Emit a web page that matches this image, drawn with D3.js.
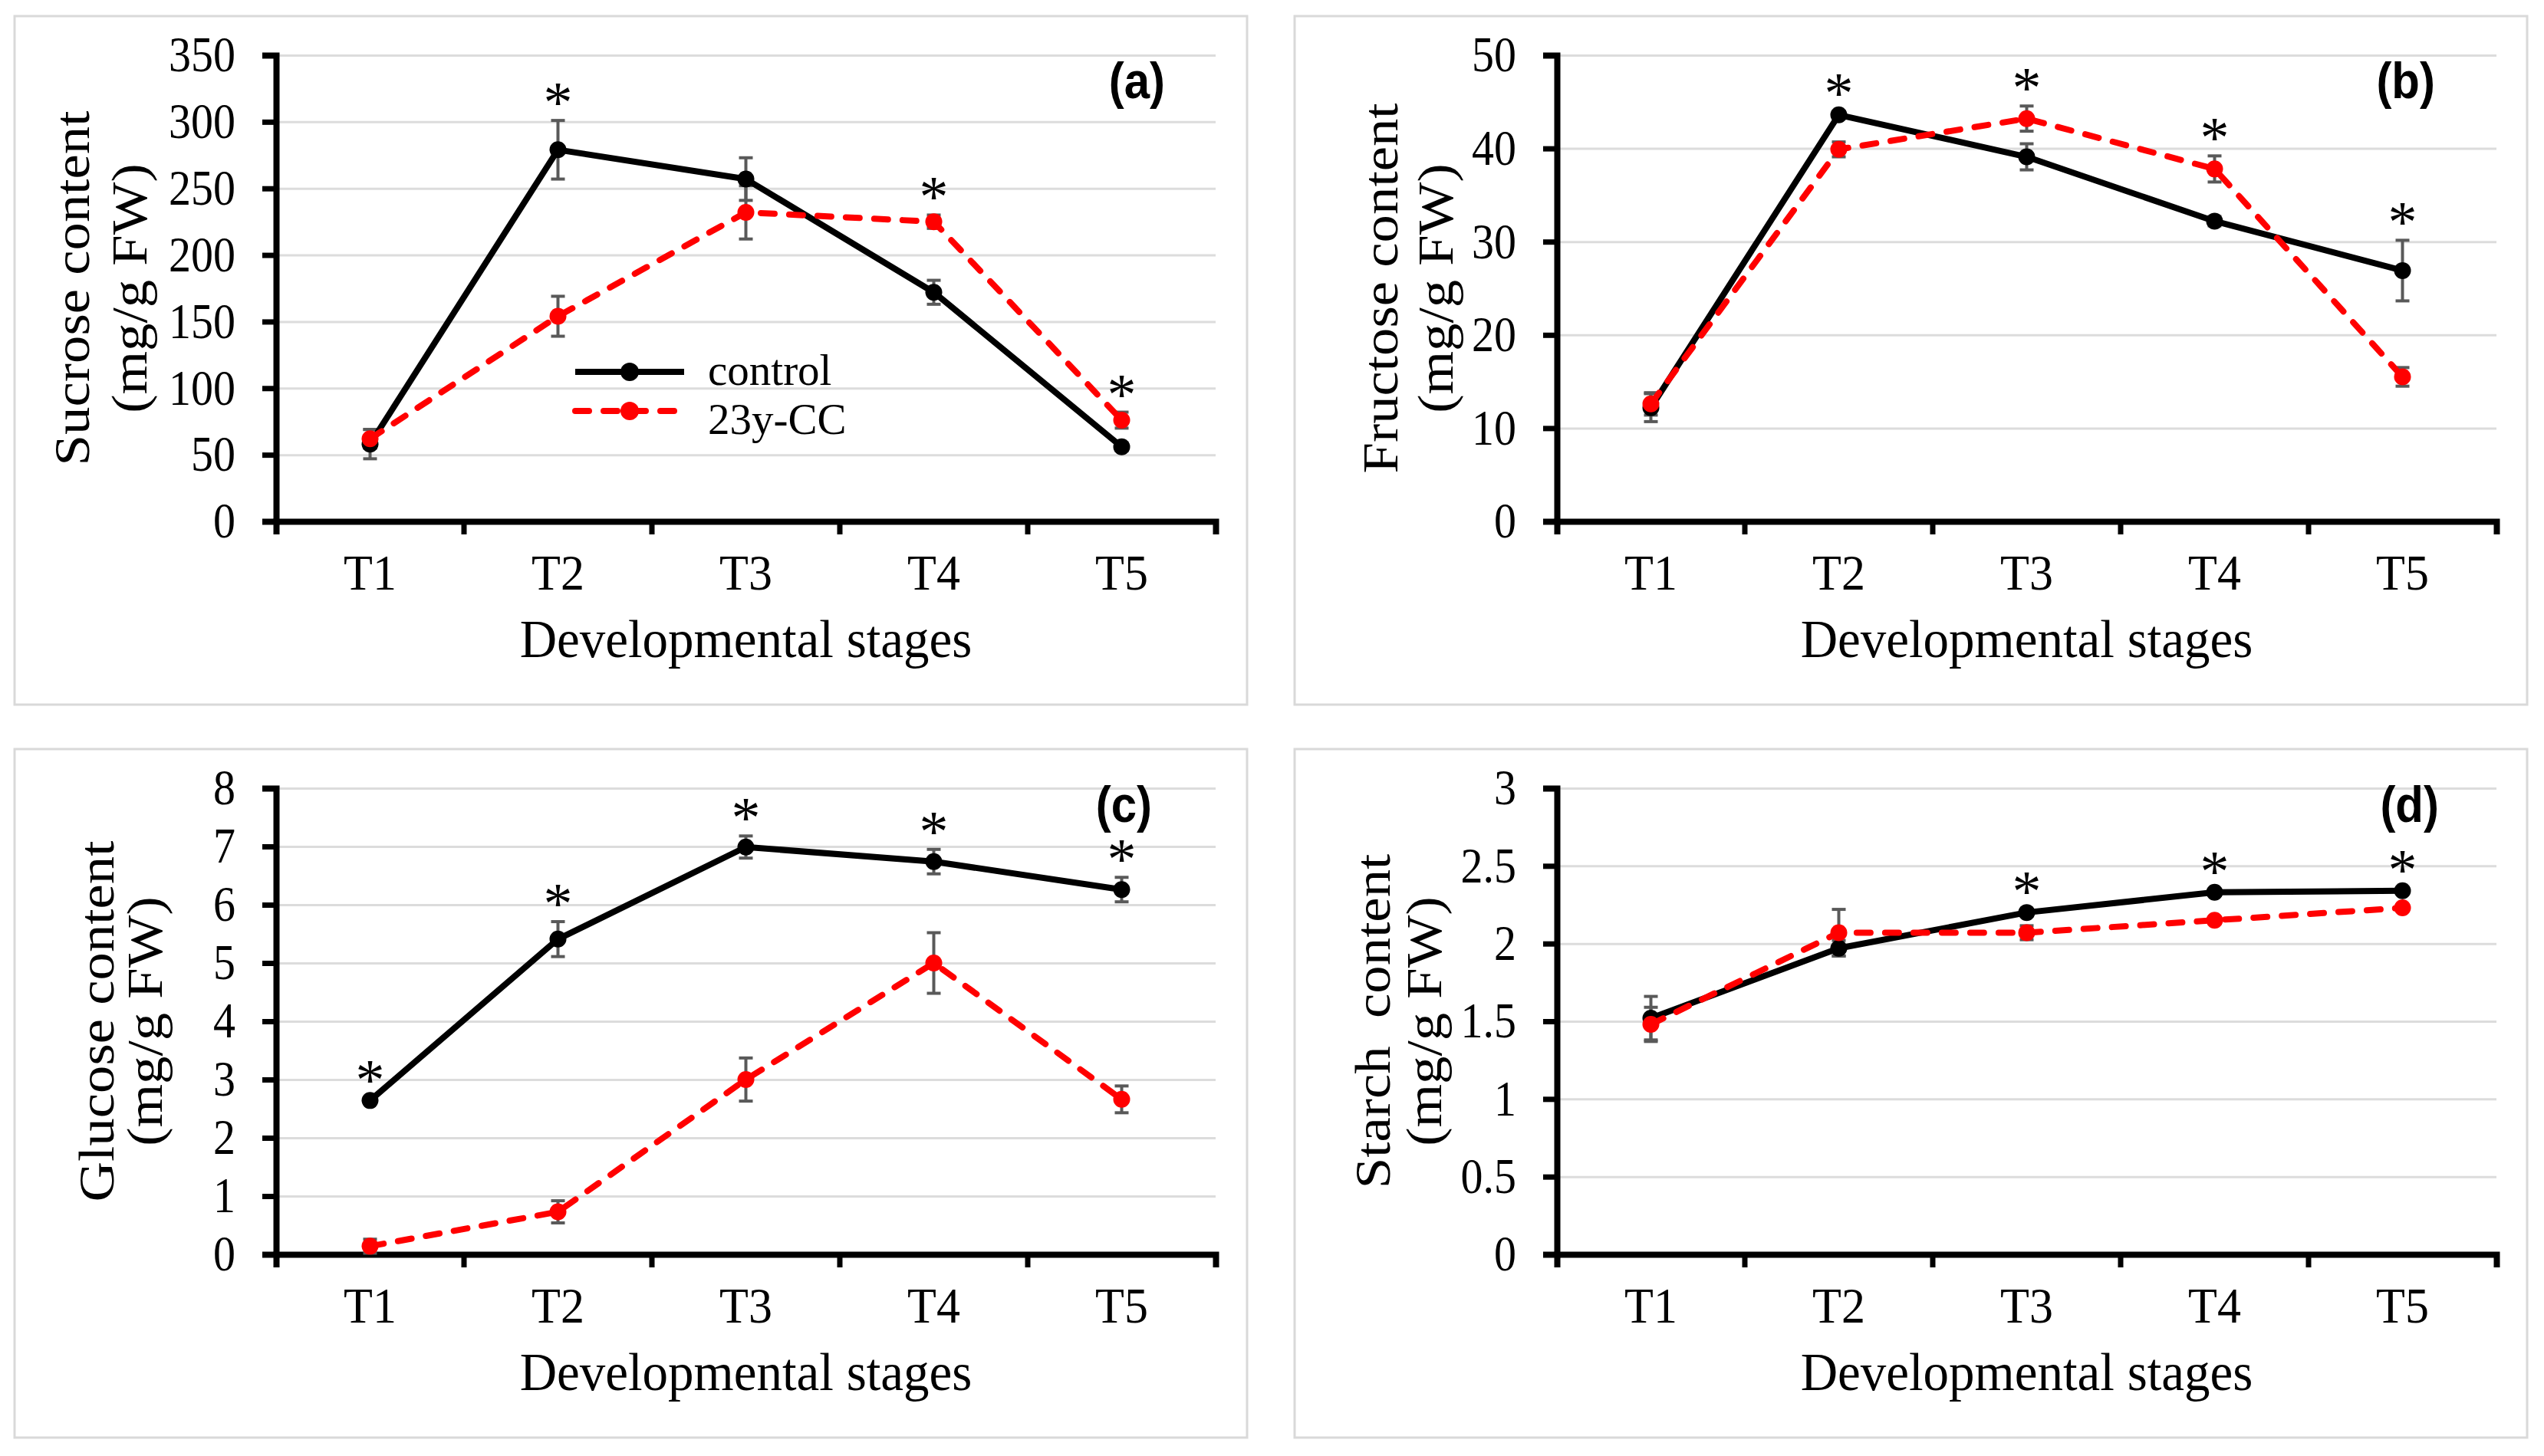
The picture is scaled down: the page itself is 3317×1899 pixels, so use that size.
<!DOCTYPE html>
<html>
<head>
<meta charset="utf-8">
<script src="https://cdn.jsdelivr.net/npm/d3@7"></script>
<style>
	body { margin: 0; background: #fff; }
	svg text { font-family: "Liberation Serif", "Times New Roman", serif; fill: #000; }
</style>
</head>
<body>
<svg id="chart"></svg>
<script>
// categories and series names
const stages = ["T1", "T2", "T3", "T4", "T5"];
const seriesNames = ["control", "23y-CC"];

// (a) sucrose
const sucroseTicks = [0, 50, 100, 150, 200, 250, 300, 350];
const sucroseControl = [58, 279, 257, 172, 56];
const sucroseControlErr = [11, 22, 16, 9, 3];
const sucroseCC = [62, 154, 232, 225, 76];
const sucroseCCErr = [7, 15, 20, 5, 6];
const sucroseStars = ["T2", "T4", "T5"];

// (b) fructose
const fructoseTicks = [0, 10, 20, 30, 40, 50];
const fructoseControl = [12.2, 43.6, 39.1, 32.2, 26.9];
const fructoseControlErr = [1.5, 0.4, 1.4, 0.5, 3.25];
const fructoseCC = [12.6, 39.9, 43.2, 37.8, 15.5];
const fructoseCCErr = [1.2, 0.8, 1.35, 1.4, 1.0];
const fructoseStars = ["T2", "T3", "T4", "T5"];

// (c) glucose
const glucoseTicks = [0, 1, 2, 3, 4, 5, 6, 7, 8];
const glucoseControl = [2.64, 5.41, 6.99, 6.74, 6.26];
const glucoseControlErr = [0.05, 0.3, 0.19, 0.21, 0.21];
const glucoseCC = [0.14, 0.73, 3.0, 5.0, 2.66];
const glucoseCCErr = [0.12, 0.19, 0.37, 0.52, 0.23];
const glucoseStars = ["T1", "T2", "T3", "T4", "T5"];

// (d) starch
const starchTicks = [0, 0.5, 1, 1.5, 2, 2.5, 3];
const starchControl = [1.52, 1.97, 2.2, 2.33, 2.34];
const starchControlErr = [0.14, 0.05, 0.02, 0.02, 0.02];
const starchCC = [1.48, 2.07, 2.07, 2.15, 2.23];
const starchCCErr = [0.11, 0.15, 0.045, 0.02, 0.02];
const starchStars = ["T3", "T4", "T5"];

const W = 3317, H = 1899;
const plotW = 1225, plotH = 608;
const colors = ["#000000", "#ff0000"];
const k = 1.12; // the figure's text is a bit taller than wide

const svg = d3.select("#chart").attr("width", W).attr("height", H);

// panel settings (layout only)
const panels = [
	{ label: "(a)", title: ["Sucrose content", "(mg/g FW)"], ticks: sucroseTicks,
	  series: [[sucroseControl, sucroseControlErr], [sucroseCC, sucroseCCErr]], stars: sucroseStars,
	  box: [19, 21], plot: [360, 72], titleX: [-267, -192], labelPos: [1159, 56], legend: true },
	{ label: "(b)", title: ["Fructose content", "(mg/g FW)"], ticks: fructoseTicks,
	  series: [[fructoseControl, fructoseControlErr], [fructoseCC, fructoseCCErr]], stars: fructoseStars,
	  box: [1688, 21], plot: [2030, 72], titleX: [-231, -159], labelPos: [1145, 56] },
	{ label: "(c)", title: ["Glucose content", "(mg/g FW)"], ticks: glucoseTicks,
	  series: [[glucoseControl, glucoseControlErr], [glucoseCC, glucoseCCErr]], stars: glucoseStars,
	  box: [19, 977], plot: [360, 1028], titleX: [-235, -172], labelPos: [1142, 44] },
	{ label: "(d)", title: ["Starch\u00A0 content", "(mg/g FW)"], ticks: starchTicks,
	  series: [[starchControl, starchControlErr], [starchCC, starchCCErr]], stars: starchStars,
	  box: [1688, 977], plot: [2030, 1028], titleX: [-241, -174], labelPos: [1150, 44] },
];

panels.forEach(drawPanel);

// move x/y of a text into a transform so it can be stretched vertically
function stretch(sel, f = k) {
	sel.each(function () {
		const t = d3.select(this);
		const xx = +t.attr("x") || 0;
		const yy = +t.attr("y") || 0;
		t.attr("x", 0).attr("y", 0).attr("transform", `translate(${xx},${yy}) scale(1,${f})`);
	});
}

function drawPanel(p) {
	// light frame around each panel
	svg.append("rect")
		.attr("x", p.box[0]).attr("y", p.box[1])
		.attr("width", 1607).attr("height", 898)
		.attr("fill", "none").attr("stroke", "#d9d9d9").attr("stroke-width", 3);

	const plot = svg.append("g").attr("transform", `translate(${p.plot[0]},${p.plot[1]})`);

	const x = d3.scaleBand().domain(stages).range([0, plotW]);
	const y = d3.scaleLinear().domain([0, d3.max(p.ticks)]).range([plotH, 0]);
	const cx = (s) => x(s) + x.bandwidth() / 2;

	// gridlines
	const grid = plot.append("g")
		.call(d3.axisLeft(y).tickValues(p.ticks.slice(1)).tickSize(-plotW).tickFormat(""));
	grid.select(".domain").remove();
	grid.selectAll("line").attr("stroke", "#dcdcdc").attr("stroke-width", 3);

	// y axis
	const yAxis = plot.append("g")
		.call(d3.axisLeft(y).tickValues(p.ticks).tickSize(18).tickSizeOuter(18).tickPadding(35).tickFormat((d) => d));
	yAxis.attr("font-family", null).attr("font-size", 58);
	yAxis.select(".domain").attr("stroke", "#000").attr("stroke-width", 8);
	yAxis.selectAll(".tick line").attr("stroke", "#000").attr("stroke-width", 7);
	yAxis.selectAll("text").style("font-family", "Liberation Serif").call(stretch);

	// x axis: ticks at category boundaries, labels centered
	const xAxis = plot.append("g")
		.attr("transform", `translate(0,${plotH})`)
		.call(d3.axisBottom(x).tickSize(0).tickSizeOuter(17));
	xAxis.attr("font-family", null).attr("font-size", 62);
	xAxis.select(".domain").attr("stroke", "#000").attr("stroke-width", 8);
	xAxis.selectAll("text").attr("y", 89).attr("dy", null).style("font-family", "Liberation Serif").call(stretch, 1.04);
	xAxis.selectAll("line.boundary")
		.data(stages.slice(1))
		.enter()
		.append("line")
		.attr("class", "boundary")
		.attr("x1", (d) => x(d)).attr("x2", (d) => x(d))
		.attr("y1", 0).attr("y2", 17)
		.attr("stroke", "#000").attr("stroke-width", 7);

	// x title
	plot.append("text")
		.attr("x", plotW / 2).attr("y", plotH + 177)
		.attr("text-anchor", "middle").attr("font-size", 67)
		.text("Developmental stages")
		.call(stretch, 1.05);

	// y title (two lines)
	p.title.forEach((t, i) => {
		plot.append("text")
			.attr("transform", `translate(${p.titleX[i]},${plotH / 2}) scale(1,${k}) rotate(-90)`)
			.attr("dy", "0.35em")
			.attr("text-anchor", "middle").attr("font-size", 65)
			.text(t);
	});

	// error bars
	p.series.forEach(([vals, errs]) => {
		const eb = plot.append("g").attr("stroke", "#595959").attr("stroke-width", 4);
		stages.forEach((s, i) => {
			const top = y(vals[i] + errs[i]);
			const bot = y(vals[i] - errs[i]);
			eb.append("line").attr("x1", cx(s)).attr("x2", cx(s)).attr("y1", top).attr("y2", bot);
			eb.append("line").attr("x1", cx(s) - 9).attr("x2", cx(s) + 9).attr("y1", top).attr("y2", top);
			eb.append("line").attr("x1", cx(s) - 9).attr("x2", cx(s) + 9).attr("y1", bot).attr("y2", bot);
		});
	});

	// lines and markers
	const line = d3.line().x((d, i) => cx(stages[i])).y((d) => y(d));
	p.series.forEach(([vals], s) => {
		plot.append("path")
			.datum(vals)
			.attr("d", line)
			.attr("fill", "none")
			.attr("stroke", colors[s])
			.attr("stroke-width", 8)
			.attr("stroke-linejoin", "round")
			.attr("stroke-linecap", s === 1 ? "round" : "butt")
			.attr("stroke-dasharray", s === 1 ? "18 19" : null);
		plot.selectAll(null)
			.data(vals)
			.enter()
			.append("circle")
			.attr("cx", (d, i) => cx(stages[i]))
			.attr("cy", (d) => y(d))
			.attr("r", 11)
			.attr("fill", colors[s]);
	});

	// significance stars above the higher error bar
	p.stars.forEach((s) => {
		const i = stages.indexOf(s);
		const top = d3.min(p.series, ([vals, errs]) => y(vals[i] + errs[i]));
		plot.append("text")
			.attr("x", cx(s)).attr("y", top + 2)
			.attr("text-anchor", "middle").attr("font-size", 76)
			.text("*");
	});

	// panel letter
	plot.append("text")
		.attr("x", p.labelPos[0]).attr("y", p.labelPos[1])
		.attr("text-anchor", "end")
		.attr("font-size", 60).attr("font-weight", "bold")
		.style("font-family", "Liberation Sans, Arial, sans-serif")
		.text(p.label)
		.call(stretch);

	if (p.legend) drawLegend(plot);
}

function drawLegend(plot) {
	seriesNames.forEach((name, s) => {
		const ly = 413 + s * 51;
		plot.append("line")
			.attr("x1", 390).attr("x2", 532).attr("y1", ly).attr("y2", ly)
			.attr("stroke", colors[s]).attr("stroke-width", 8)
			.attr("stroke-linecap", s === 1 ? "round" : "butt")
			.attr("stroke-dasharray", s === 1 ? "18 19" : null);
		plot.append("circle").attr("cx", 461).attr("cy", ly).attr("r", 12).attr("fill", colors[s]);
		plot.append("text")
			.attr("x", 563).attr("y", 430 + s * 64)
			.attr("font-size", 57)
			.text(name);
	});
}
</script>
</body>
</html>
